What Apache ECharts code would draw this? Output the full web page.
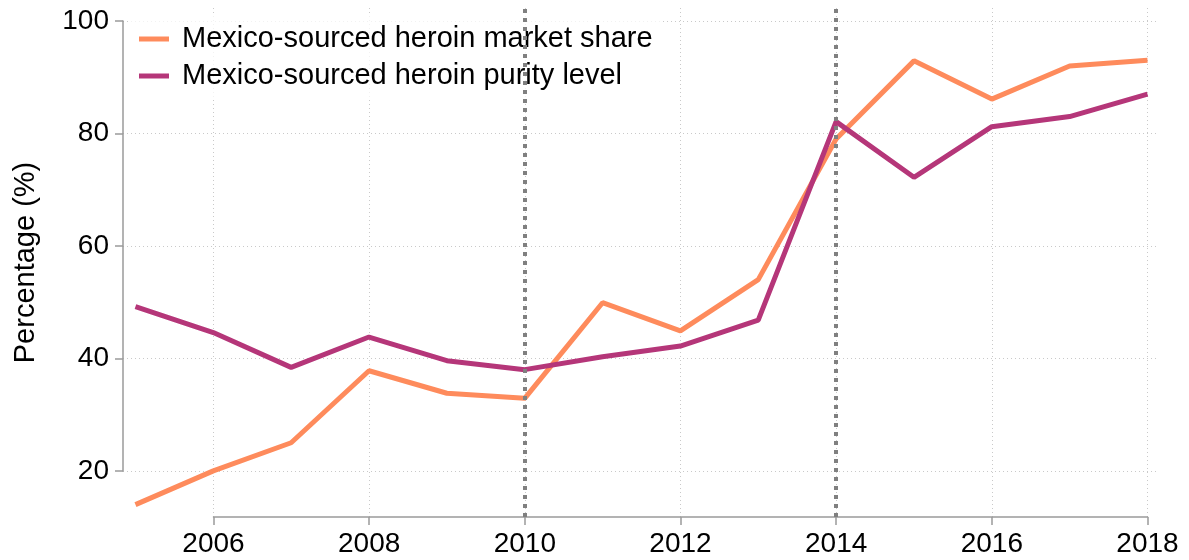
<!DOCTYPE html>
<html>
<head>
<meta charset="utf-8">
<script src="https://cdn.jsdelivr.net/npm/echarts@6/dist/echarts.min.js"></script>
<style>
html,body{margin:0;padding:0;background:#fff;}
#chart{width:1189px;height:560px;}
</style>
</head>
<body>
<div id="chart"></div>
<script>
// ---- data ----
const years = [2005, 2006, 2007, 2008, 2009, 2010, 2011, 2012, 2013, 2014, 2015, 2016, 2017, 2018];
const marketShare = [14, 20, 25, 37.8, 33.8, 32.9, 49.9, 44.9, 54, 79, 92.9, 86.1, 92, 93];
const purity = [49.2, 44.6, 38.4, 43.8, 39.6, 38, 40.3, 42.2, 46.8, 82.1, 72.2, 81.2, 83, 87];
const breakYears = [2010, 2014];
const seriesNames = ['Mexico-sourced heroin market share', 'Mexico-sourced heroin purity level'];
const xTickMin = 2006, xTickMax = 2018, xTickStep = 2;
const yTickMin = 20, yTickMax = 100, yTickStep = 20;
const yTitle = 'Percentage (%)';

// ---- styles ----
const FONT = '"Liberation Sans", Arial, Helvetica, sans-serif';
const orange = '#fe8b5c';
const purple = '#b53679';
const axisGray = '#9a9a9a';
const gridGray = '#c9c9c9';

const chart = echarts.init(document.getElementById('chart'), null, {renderer: 'canvas'});

const option = {
  animation: false,
  backgroundColor: '#fff',
  grid: [
    {left: 123, right: 31, top: 8, bottom: 43},      // main data grid
    {left: 213.5, right: 41.5, top: 8, bottom: 43},  // x axis grid
    {left: 123, right: 31, top: 21, bottom: 89}      // y axis grid
  ],
  xAxis: [
    {gridIndex: 0, type: 'value', min: 2004.84, max: 2018.135, show: false},
    {
      gridIndex: 1, type: 'value', min: xTickMin, max: xTickMax, interval: xTickStep,
      axisLine: {show: true, lineStyle: {color: axisGray, width: 1.5}},
      axisTick: {show: true, length: 8, lineStyle: {color: axisGray, width: 1.5}},
      axisLabel: {show: true, margin: 13, color: '#000', fontSize: 28, fontFamily: FONT,
        formatter: v => String(v)},
      splitLine: {show: true, lineStyle: {color: gridGray, width: 1, type: [1, 3]}}
    },
    {gridIndex: 2, type: 'value', min: 0, max: 1, show: false}
  ],
  yAxis: [
    {
      gridIndex: 0, type: 'value', min: 11.8, max: 102.3,
      axisLine: {show: false}, axisTick: {show: false}, axisLabel: {show: false},
      splitLine: {show: false},
      name: yTitle, nameLocation: 'middle', nameGap: 83, nameRotate: 90,
      nameTextStyle: {color: '#000', fontSize: 29, fontFamily: FONT}
    },
    {gridIndex: 1, type: 'value', min: 0, max: 1, show: false},
    {
      gridIndex: 2, type: 'value', min: yTickMin, max: yTickMax, interval: yTickStep,
      axisLine: {show: true, lineStyle: {color: axisGray, width: 1.5}},
      axisTick: {show: true, length: 8, lineStyle: {color: axisGray, width: 1.5}},
      axisLabel: {show: true, margin: 14, color: '#000', fontSize: 28, fontFamily: FONT},
      splitLine: {show: true, lineStyle: {color: gridGray, width: 1, type: [1, 3]}}
    }
  ],
  legend: {
    data: seriesNames,
    orient: 'vertical',
    left: 129, top: 15,
    padding: [9, 10, 6, 10],
    backgroundColor: 'rgba(255,255,255,0.75)',
    itemGap: 7,
    itemWidth: 30, itemHeight: 5,
    icon: 'rect',
    textStyle: {color: '#000', fontSize: 29, fontFamily: FONT, lineHeight: 30, padding: [0, 0, 0, 8]}
  },
  series: [
    {
      name: 'breaks', type: 'line', xAxisIndex: 0, yAxisIndex: 0, data: [], z: 1,
      markLine: {
        silent: true, symbol: 'none', label: {show: false},
        lineStyle: {color: '#808080', width: 4, type: [4, 5]},
        data: breakYears.map(y => ({xAxis: y}))
      }
    },
    {
      name: seriesNames[0], type: 'line', xAxisIndex: 0, yAxisIndex: 0, z: 3,
      data: years.map((y, i) => [y, marketShare[i]]),
      showSymbol: false, symbol: 'none',
      itemStyle: {color: orange},
      lineStyle: {color: orange, width: 5}
    },
    {
      name: seriesNames[1], type: 'line', xAxisIndex: 0, yAxisIndex: 0, z: 4,
      data: years.map((y, i) => [y, purity[i]]),
      showSymbol: false, symbol: 'none',
      itemStyle: {color: purple},
      lineStyle: {color: purple, width: 5}
    }
  ]
};
chart.setOption(option);
</script>
</body>
</html>
